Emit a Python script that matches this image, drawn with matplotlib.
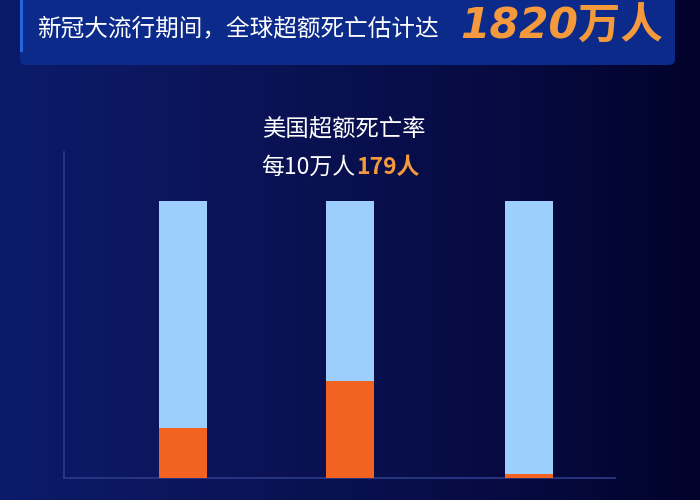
import numpy as np
import matplotlib.pyplot as plt
from matplotlib.patches import FancyBboxPatch, Rectangle
from matplotlib.colors import LinearSegmentedColormap

plt.rcParams['font.family'] = ['Noto Sans CJK SC', 'DejaVu Sans']

# data: share of each bar that is orange (rest is light blue, stacked to 100%)
categories = ["A", "B", "C"]
orange_share = [0.18, 0.35, 0.015]
total = [1.0, 1.0, 1.0]
x_pos = [0, 1, 2.07]

title_text = "新冠大流行期间，全球超额死亡估计达"
title_number = "1820万人"
sub_line1 = "美国超额死亡率"
sub_line2_a = "每10万人"
sub_line2_b = "179人"

blue_c = "#9dcffd"
orange_c = "#f26322"
text_orange = "#f59a3c"

fig = plt.figure(figsize=(7, 5), dpi=100)

# background gradient
bg = fig.add_axes([0, 0, 1, 1])
cmap = LinearSegmentedColormap.from_list("bg", ["#0c1b6a", "#0b1458", "#070c45", "#02032c"])
grad = np.linspace(0, 1, 256).reshape(1, -1)
bg.imshow(grad, aspect="auto", cmap=cmap, extent=[0, 1, 0, 1])
bg.set_xlim(0, 1)
bg.set_ylim(0, 1)
bg.axis("off")

# title banner
banner = FancyBboxPatch((20 / 700, 1 - 65 / 500), 655 / 700, 80 / 500,
                        boxstyle="round,pad=0,rounding_size=0.01",
                        transform=fig.transFigure, facecolor="#0c2a8a",
                        edgecolor="none", zorder=1)
fig.patches.append(banner)
accent = Rectangle((20 / 700, 1 - 52 / 500), 3 / 700, 52 / 500,
                   transform=fig.transFigure, facecolor="#2466e0",
                   edgecolor="none", zorder=2)
fig.patches.append(accent)

fig.text(37 / 700, 1 - 29 / 500, title_text, color="white", fontsize=17,
         fontweight="medium", va="center", ha="left")
fig.text(460 / 700, 1 - 27 / 500, title_number, color=text_orange, fontsize=30.5,
         fontweight="bold", fontstyle="italic", va="center", ha="left",
         family=['DejaVu Sans', 'Noto Sans CJK SC'])

# chart
ax = fig.add_axes([64 / 700, 22 / 500, 551 / 700, 326 / 500])
ax.patch.set_alpha(0)
ax.bar(x_pos, total, width=0.287, color=blue_c, zorder=2)
ax.bar(x_pos, orange_share, width=0.287, color=orange_c, zorder=3)
ax.set_xlim(-0.713, 2.587)
ax.set_ylim(0, 1.177)
for s in ["top", "right"]:
    ax.spines[s].set_visible(False)
for s in ["left", "bottom"]:
    ax.spines[s].set_color("#2d3b8a")
    ax.spines[s].set_linewidth(1.2)
ax.set_xticks([])
ax.set_yticks([])

fig.text(344 / 700, 1 - 130 / 500, sub_line1, color="white", fontsize=16.8,
         va="center", ha="center")
fig.text(261 / 700, 1 - 167 / 500, sub_line2_a, color="white", fontsize=16.5,
         va="center", ha="left")
fig.text(356 / 700, 1 - 167 / 500, sub_line2_b, color=text_orange, fontsize=16.5,
         fontweight="bold", va="center", ha="left")

fig.savefig("out.png", dpi=100)
